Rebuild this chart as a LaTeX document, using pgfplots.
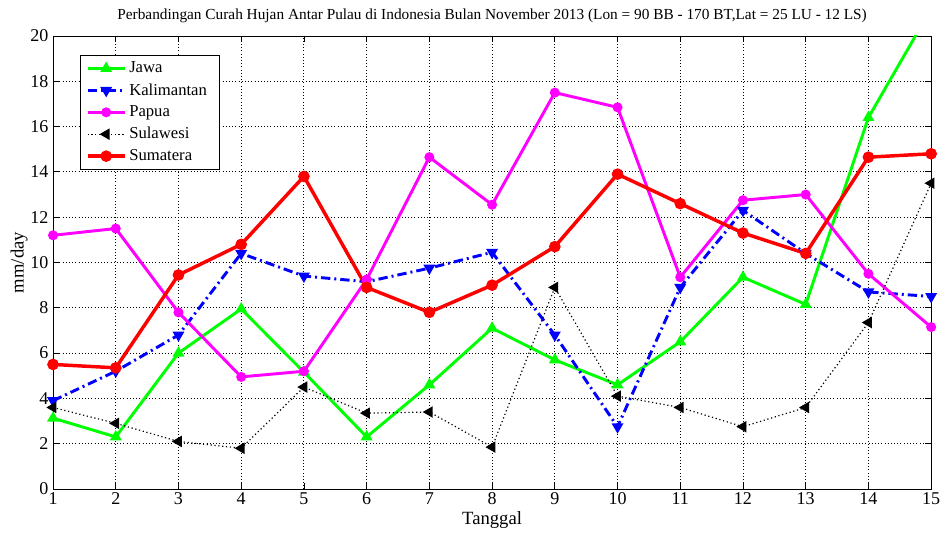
\documentclass[border=0pt]{standalone}
\usepackage{pgfplots}
\pgfplotsset{compat=1.18}
\usepackage{fontspec}
\setmainfont{Liberation Serif}

\definecolor{mgreen}{RGB}{0,255,0}
\definecolor{mblue}{RGB}{0,0,255}
\definecolor{mmag}{RGB}{255,0,255}
\definecolor{mred}{RGB}{255,0,0}

\begin{document}
\begin{tikzpicture}
% page frame: axis 878x453 px, 1px = 0.75pt
\useasboundingbox (-39.8pt,-33pt) rectangle (666.4pt,367pt);
\begin{axis}[
  scale only axis,
  width=659pt, height=340pt,
  xmin=1, xmax=15, ymin=0, ymax=20,
  xtick={1,...,15}, ytick={0,2,...,20},
  /pgf/number format/assume math mode=true,
  tick label style={font=\fontsize{13.5}{15}\selectfont},
  xticklabel style={yshift=1pt},
  xlabel={Tanggal}, ylabel={mm/day},
  label style={font=\fontsize{14}{15}\selectfont},
  xlabel style={at={(axis description cs:0.5,0)}, anchor=center, yshift=-23pt},
  ylabel style={at={(axis description cs:0,0.5)}, anchor=center, yshift=25.5pt},
  title={Perbandingan Curah Hujan Antar Pulau di Indonesia Bulan November 2013 (Lon = 90 BB - 170 BT,Lat = 25 LU - 12 LS)},
  title style={font=\fontsize{11.5}{13}\selectfont, at={(axis description cs:0.5,1)}, anchor=center, yshift=9pt},
  grid=major,
  major grid style={black, dotted, line width=0.7pt},
  axis line style={black, line width=0.6pt},
  tick style={black, line width=0.6pt},
  tick align=inside,
  clip=true,
  legend cell align=left,
  legend style={at={(0.0308,0.958)}, anchor=north west, font=\fontsize{12.5}{14}\selectfont,
    draw=black, line width=0.6pt, row sep=2.5pt, inner xsep=4pt, inner ysep=3pt,
    text width=62pt},
  legend image code/.code={
    \draw[mark repeat=2,mark phase=2] plot coordinates {(0pt,0pt) (14pt,0pt) (28pt,0pt)};
  },
  every axis plot/.append style={line width=2.2pt},
]
\addplot[mgreen, mark=triangle*, mark size=3pt, mark options={solid}] coordinates {
  (1,3.13) (2,2.3) (3,6.0) (4,7.95) (5,5.16) (6,2.3) (7,4.6) (8,7.1)
  (9,5.7) (10,4.6) (11,6.5) (12,9.35) (13,8.15) (14,16.4) (15,21.2)
};
\addlegendentry{Jawa}
\addplot[mblue, dash pattern=on 7pt off 3pt on 1.5pt off 3pt, mark=triangle*, mark size=3pt, mark options={solid, rotate=180}] coordinates {
  (1,3.9) (2,5.2) (3,6.8) (4,10.4) (5,9.4) (6,9.15) (7,9.75) (8,10.45)
  (9,6.8) (10,2.75) (11,8.9) (12,12.3) (13,10.4) (14,8.7) (15,8.5)
};
\addlegendentry{Kalimantan}
\addplot[mmag, mark=*, mark size=2.6pt, mark options={solid}] coordinates {
  (1,11.2) (2,11.5) (3,7.8) (4,4.95) (5,5.2) (6,9.25) (7,14.65) (8,12.55)
  (9,17.5) (10,16.85) (11,9.35) (12,12.75) (13,13.0) (14,9.5) (15,7.15)
};
\addlegendentry{Papua}
\addplot[black, line width=0.9pt, dotted, mark=triangle*, mark size=3.6pt, mark options={solid, line width=1.4pt, rotate=90}] coordinates {
  (1,3.6) (2,2.9) (3,2.1) (4,1.8) (5,4.5) (6,3.35) (7,3.4) (8,1.85)
  (9,8.9) (10,4.1) (11,3.6) (12,2.75) (13,3.6) (14,7.35) (15,13.5)
};
\addlegendentry{Sulawesi}
\addplot[mred, line width=2.6pt, mark=*, mark size=3pt, mark options={solid}] coordinates {
  (1,5.5) (2,5.35) (3,9.45) (4,10.8) (5,13.8) (6,8.9) (7,7.8) (8,9.0)
  (9,10.7) (10,13.9) (11,12.6) (12,11.3) (13,10.4) (14,14.65) (15,14.8)
};
\addlegendentry{Sumatera}
\end{axis}
\end{tikzpicture}
\end{document}
